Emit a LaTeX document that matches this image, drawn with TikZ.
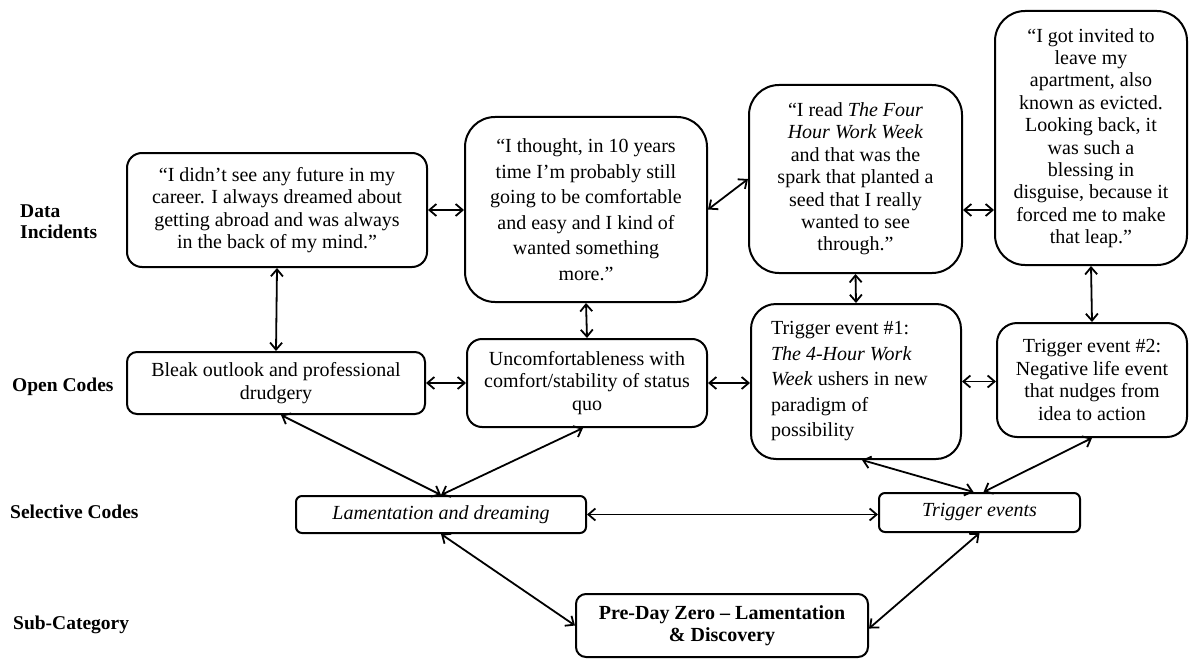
\documentclass[tikz,border=0pt]{standalone}
\usepackage{fontspec}
\setmainfont{Liberation Serif}
\usetikzlibrary{arrows.meta}
\begin{document}
\begin{tikzpicture}[x=1pt,y=-1pt,
  box/.style={draw, line width=2pt, inner sep=0pt, align=center, font=\fontsize{20}{22.4}\selectfont},
  wide/.style={font=\fontsize{20}{25.5}\selectfont},
  lab/.style={anchor=west, align=left, inner sep=0pt, font=\fontsize{19.5}{21}\selectfont\bfseries},
  link/.style={line width=1.8pt, {Straight Barb[length=7pt,width=12pt]}-{Straight Barb[length=7pt,width=12pt]}}]
\useasboundingbox (0,0) rectangle (1190,658);
\fill[white] (0,0) rectangle (1190,658);

% row labels
\node[lab] (L1) at (20,222) {Data\\Incidents};
\node[lab] (L2) at (12,387) {Open Codes};
\node[lab] (L3) at (10,512) {Selective Codes};
\node[lab] (L4) at (13,625) {Sub-Category};

% data incidents
\node[box, minimum width=300pt, minimum height=114pt, rounded corners=15pt] (D1) at (277,210)
  {“I didn’t see any future in my\\career. I always dreamed about\\getting abroad and was always\\in the back of my mind.”};
\node[box, wide, minimum width=242pt, minimum height=185pt, rounded corners=30pt] (D2) at (586,209.5)
  {“I thought, in 10 years\\time I’m probably still\\going to be comfortable\\and easy and I kind of\\wanted something\\more.”};
\node[box, minimum width=213pt, minimum height=188pt, rounded corners=30pt] (D3) at (855.5,179)
  {“I read \textit{The Four}\\\textit{Hour Work Week}\\and that was the\\spark that planted a\\seed that I really\\wanted to see\\through.”};
\node[box, minimum width=192pt, minimum height=254pt, rounded corners=30pt] (D4) at (1091,138)
  {“I got invited to\\leave my\\apartment, also\\known as evicted.\\Looking back, it\\was such a\\blessing in\\disguise, because it\\forced me to make\\that leap.”};

% open codes
\node[box, minimum width=298pt, minimum height=62pt, rounded corners=10pt] (O1) at (276,383)
  {Bleak outlook and professional\\drudgery};
\node[box, minimum width=240pt, minimum height=88pt, rounded corners=15pt] (O2) at (587,383)
  {Uncomfortableness with\\comfort/stability of status\\quo};
\node[box, wide, align=flush left, minimum width=210pt, minimum height=155pt, rounded corners=25pt, text width=170pt] (O3) at (856,381.5)
  {Trigger event \#1:\\\textit{The 4-Hour Work}\\\textit{Week} ushers in new\\paradigm of\\possibility};
\node[box, minimum width=190pt, minimum height=114pt, rounded corners=20pt] (O4) at (1092,380)
  {Trigger event \#2:\\Negative life event\\that nudges from\\idea to action};

% selective codes
\node[box, minimum width=290pt, minimum height=37pt, rounded corners=6pt] (S1) at (441,514.5)
  {\textit{Lamentation and dreaming}};
\node[box, minimum width=201pt, minimum height=39pt, rounded corners=6pt] (S2) at (979.5,512.5)
  {\textit{Trigger events}};

% sub-category
\node[box, minimum width=292pt, minimum height=63pt, rounded corners=10pt, font=\fontsize{20}{22.4}\selectfont\bfseries] (P) at (722,625.5)
  {Pre-Day Zero – Lamentation\\\& Discovery};

% connectors
\draw[link] (D1.east) -- (D1.east -| D2.west);
\draw[link] (D2.east) -- (D3.west);
\draw[link] (D3.east |- D1.east) -- (D4.west |- D1.east);
\draw[link] (D1.south) -- (O1.north);
\draw[link] (D2.south) -- (O2.north);
\draw[link] (D3.south) -- (O3.north);
\draw[link] (D4.south) -- (O4.north);
\draw[link] (O1.east) -- (O2.west);
\draw[link] (O2.east) -- (O2.east -| O3.west);
\draw[link] (O3.east) -- (O3.east -| O4.west);
\draw[link] ([xshift=5pt]O1.south) -- (S1.north);
\draw[link] ([xshift=-4pt]O2.south) -- (S1.north);
\draw[link] ([xshift=6pt]O3.south) -- ([xshift=-6pt]S2.north);
\draw[link] (O4.south) -- ([xshift=4pt]S2.north);
\draw[link] (S1.east) -- (S1.east -| S2.west);
\draw[link] (S1.south) -- (P.west);
\draw[link] (S2.south) -- ([yshift=-3pt]P.east);
\end{tikzpicture}
\end{document}
